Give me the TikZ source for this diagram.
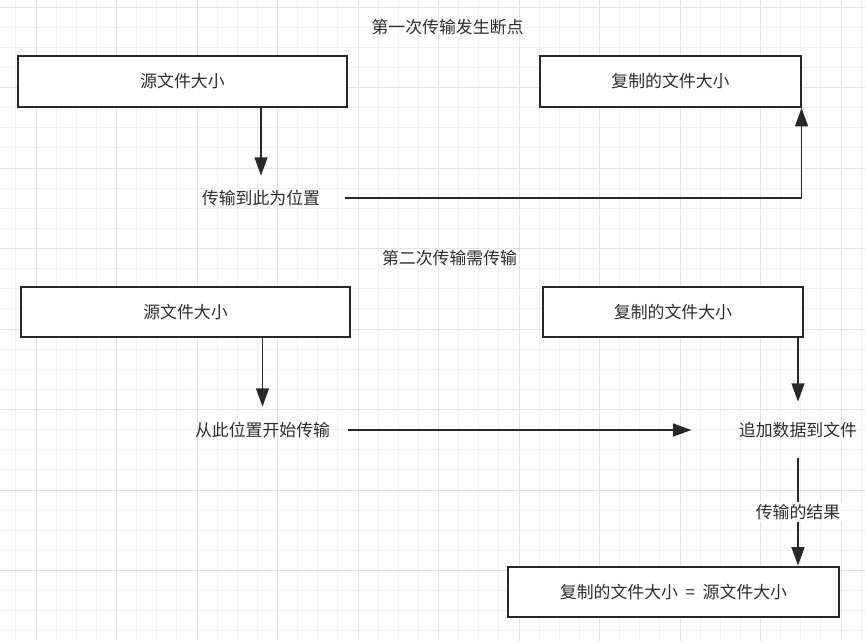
\documentclass[tikz,border=0pt]{standalone}
\usepackage{fontspec}
\usepackage{tikz}
\usetikzlibrary{arrows.meta, positioning}
\newfontfamily\cjk{Noto Sans CJK SC}
\definecolor{ink}{RGB}{40,40,40}
\definecolor{txtc}{RGB}{45,45,45}
\definecolor{gridmin}{RGB}{242,242,242}
\definecolor{gridmaj}{RGB}{226,226,226}
\tikzstyle{box} = [rectangle, draw=ink, fill=white, line width=1.4pt, minimum height=1.27cm, text=txtc, font=\cjk\fontsize{12}{14}\selectfont]
\tikzstyle{txt} = [text=txtc, font=\cjk\fontsize{12}{14}\selectfont, inner sep=0pt]
\tikzstyle{edgelbl} = [txt, fill=white, inner sep=1.5pt]
\tikzstyle{line} = [draw=ink, line width=1.3pt]
\tikzstyle{arrow} = [line, -{Triangle[length=0.46cm, width=0.32cm]}]
\tikzstyle{minorline} = [draw=gridmin, line width=0.6pt]
\tikzstyle{majorline} = [draw=gridmaj, line width=0.6pt]

\begin{document}
\begin{tikzpicture}[x=0.025cm, y=-0.025cm]
			\fill [white] (0,0) rectangle (865,641);
			\useasboundingbox (0,0) rectangle (865,641);
			\foreach \i in {0,...,43}
				\path [minorline] ({-4.25+20.125*\i},0) -- ({-4.25+20.125*\i},641);
			\foreach \j in {0,...,31}
				\path [minorline] (0,{7+20.125*\j}) -- (865,{7+20.125*\j});
			\foreach \i in {0,...,10}
				\path [majorline] ({36+80.5*\i},0) -- ({36+80.5*\i},641);
			\foreach \j in {0,...,7}
				\path [majorline] (0,{7+80.5*\j}) -- (865,{7+80.5*\j});
			
			\node [txt] (t1) at (447.5,27) {第一次传输发生断点};
			\node [box, minimum width=8.225cm] (src1) at (182.5,81.5) {源文件大小};
			\node [box, minimum width=6.5cm] (copy1) at (670.5,81.5) {复制的文件大小};
			\node [txt, inner xsep=0.62cm, minimum height=1.1cm] (pos1) at (261,198) {传输到此为位置};
			
			\node [txt] (t2) at (449.5,258) {第二次传输需传输};
			\node [box, minimum width=8.225cm] (src2) at (185.5,312) {源文件大小};
			\node [box, minimum width=6.5cm] (copy2) at (673,312) {复制的文件大小};
			\node [txt, inner xsep=0.44cm, minimum height=1.15cm] (pos2) at (262.5,430) {从此位置开始传输};
			\node [txt, inner xsep=1.18cm, minimum height=1.4cm] (append) at (798,430) {追加数据到文件};
			\node [box, minimum width=8.25cm] (result) at (673.5,592) {复制的文件大小\hspace{0.45em}=\hspace{0.45em}源文件大小};
			
			\path [arrow] (src1.south -| pos1.north) -- (pos1.north);
			\path [arrow] (pos1.east) -| (copy1.south east);
			\path [arrow] (src2.south -| pos2.north) -- (pos2.north);
			\path [arrow] (pos2.east) -- (append.west);
			\path [arrow] (copy2.south -| append.north) -- (append.north);
			\path [arrow] (append.south) -- node [edgelbl] (res) {传输的结果} (append.south |- result.north);
		\end{tikzpicture}
\end{document}
